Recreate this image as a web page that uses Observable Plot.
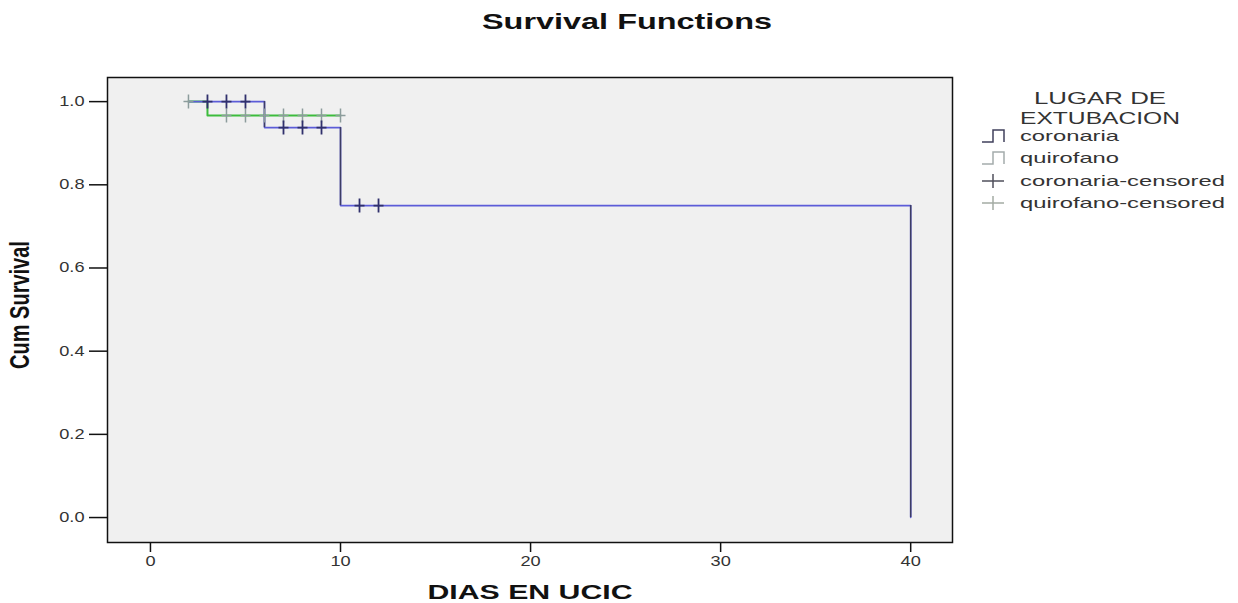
<!DOCTYPE html>
<html><head><meta charset="utf-8">
<script src="https://cdn.jsdelivr.net/npm/d3@7"></script>
<script src="https://cdn.jsdelivr.net/npm/@observablehq/plot@0.6"></script>
<style>
body{margin:0;background:#fff;}
#chart{width:1238px;height:603px;}
</style>
</head><body><div id="chart"></div>
<script>
// ---- data ----
const title = "Survival Functions";
const xLabel = "DIAS EN UCIC";
const yLabel = "Cum Survival";
const legendTitle = ["LUGAR DE", "EXTUBACION"];
const legendLabels = ["coronaria", "quirofano", "coronaria-censored", "quirofano-censored"];
const xTicks = [0, 10, 20, 30, 40];
const yTicks = [0.0, 0.2, 0.4, 0.6, 0.8, 1.0];

const coronariaTime = [2, 6, 10, 40];
const coronariaSurv = [1.0, 0.9375, 0.75, 0.0];
const quirofanoTime = [2, 3, 10];
const quirofanoSurv = [1.0, 0.9667, 0.9667];
const coronariaCensTime = [3, 4, 5, 7, 8, 9, 11, 12];
const coronariaCensSurv = [1.0, 1.0, 1.0, 0.9375, 0.9375, 0.9375, 0.75, 0.75];
const quirofanoCensTime = [2, 4, 5, 6, 7, 8, 9, 10];
const quirofanoCensSurv = [1.0, 0.9667, 0.9667, 0.9667, 0.9667, 0.9667, 0.9667, 0.9667];

// ---- tables ----
const cor = coronariaTime.map((t, i) => ({t, s: coronariaSurv[i]}));
const qui = quirofanoTime.map((t, i) => ({t, s: quirofanoSurv[i]}));
const corDrops = coronariaTime.slice(1).map((t, i) => ({t, s1: coronariaSurv[i], s2: coronariaSurv[i + 1]}));
const corCens = coronariaCensTime.map((t, i) => ({t, s: coronariaCensSurv[i]}));
const quiCens = quirofanoCensTime.map((t, i) => ({t, s: quirofanoCensSurv[i]}));

const cross = {draw(ctx) { ctx.moveTo(-5, 0); ctx.lineTo(5, 0); ctx.moveTo(0, -7); ctx.lineTo(0, 7); }};

const chart = Plot.plot({
  width: 1238, height: 603,
  marginLeft: 107, marginRight: 286, marginTop: 77, marginBottom: 61,
  style: {fontFamily: "'Liberation Sans', Arial, sans-serif", fontSize: "14px", background: "#fff"},
  x: {domain: [-2.26, 42.2]},
  y: {domain: [-0.06, 1.058]},
  marks: [
    Plot.frame({fill: "#f0f0f0", stroke: null}),
    Plot.line(qui, {x: "t", y: "s", curve: "step-after", stroke: "#3cbc3c", strokeWidth: 2}),
    Plot.line(cor, {x: "t", y: "s", curve: "step-after", stroke: "#5c5cd8", strokeWidth: 1.6}),
    Plot.ruleX(corDrops, {x: "t", y1: "s1", y2: "s2", stroke: "#3c3c64", strokeWidth: 1.5}),
    Plot.dot(quiCens, {x: "t", y: "s", symbol: cross, r: 5, fill: "none", stroke: "#8c9c9c", strokeWidth: 1.5}),
    Plot.dot(corCens, {x: "t", y: "s", symbol: cross, r: 5, fill: "none", stroke: "#30306c", strokeWidth: 1.8}),
    Plot.frame({stroke: "#111", strokeWidth: 1.5}),
    Plot.axisX({ticks: xTicks, tickSize: 10, tickPadding: 4, label: null, stroke: "#111", strokeWidth: 1.5, fill: "#333"}),
    Plot.axisY({ticks: yTicks, tickSize: 18, tickPadding: 5, tickFormat: d3.format(".1f"), label: null, stroke: "#111", strokeWidth: 1.5, fill: "#333"})
  ]
});
document.getElementById("chart").appendChild(chart);

const svg = d3.select(chart);
// horizontal stretch of tick labels, as in the reference image
svg.selectAll("g[aria-label='x-axis tick label'] text, g[aria-label='y-axis tick label'] text")
  .attr("transform", function() { return (this.getAttribute("transform") || "") + " scale(1.3,1)"; });

const ff = "'Liberation Sans', Arial, sans-serif";
// title
svg.append("text").attr("x", 627).attr("y", 29).attr("text-anchor", "middle")
  .attr("font-family", ff).attr("font-size", 22).attr("font-weight", "bold").attr("fill", "#111")
  .attr("textLength", 290).attr("lengthAdjust", "spacingAndGlyphs").text(title);
// x label
svg.append("text").attr("x", 530).attr("y", 599).attr("text-anchor", "middle")
  .attr("font-family", ff).attr("font-size", 21).attr("font-weight", "bold").attr("fill", "#111")
  .attr("textLength", 205).attr("lengthAdjust", "spacingAndGlyphs").text(xLabel);
// y label
svg.append("text").attr("text-anchor", "middle")
  .attr("transform", "translate(29,305) scale(1.35,1) rotate(-90)")
  .attr("font-family", ff).attr("font-size", 20).attr("font-weight", "bold").attr("fill", "#111")
  .text(yLabel);

// legend
const lg = svg.append("g").attr("font-family", ff).attr("fill", "#333");
lg.append("text").attr("x", 1100).attr("y", 104).attr("text-anchor", "middle").attr("font-size", 16)
  .attr("textLength", 132).attr("lengthAdjust", "spacingAndGlyphs").text(legendTitle[0]);
lg.append("text").attr("x", 1100).attr("y", 124).attr("text-anchor", "middle").attr("font-size", 16)
  .attr("textLength", 160).attr("lengthAdjust", "spacingAndGlyphs").text(legendTitle[1]);
const rowY = [141, 163, 186, 208];
const lens = [99, 99, 205, 205];
const iconColors = ["#40405c", "#a4acac", "#50505c", "#a4aca4"];
legendLabels.forEach((lab, i) => {
  const y = rowY[i];
  lg.append("text").attr("x", 1020).attr("y", y).attr("text-anchor", "start").attr("font-size", 15)
    .attr("textLength", lens[i]).attr("lengthAdjust", "spacingAndGlyphs").text(lab);
  const cy = y - 5;
  if (i < 2) {
    lg.append("path").attr("d", `M982,${cy + 6}H993V${cy - 6}H1004V${cy + 6}`)
      .attr("fill", "none").attr("stroke", iconColors[i]).attr("stroke-width", 1.5);
  } else {
    lg.append("path").attr("d", `M982,${cy}H1004M993,${cy - 7}V${cy + 7}`)
      .attr("fill", "none").attr("stroke", iconColors[i]).attr("stroke-width", 1.5);
  }
});
</script>
</body></html>
